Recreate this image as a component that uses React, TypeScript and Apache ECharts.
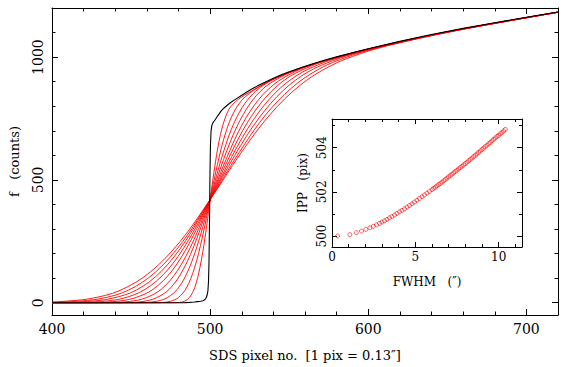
import React, { useEffect, useRef } from "react";
import * as echarts from "echarts";

// ---------- main panel data: f (counts) vs SDS pixel ----------
const blackCurve: number[][] = [
  [400, 0], [480, 0], [484, 0.5], [487, 1.5], [490, 3], [492, 4.5], [494, 6], [495.5, 8],
  [496.5, 12], [497.3, 18], [498, 28], [498.6, 48], [499, 90], [499.3, 170], [499.6, 330],
  [499.9, 520], [500.2, 640], [500.6, 700], [501.1, 722], [501.8, 733], [502.6, 740],
  [503.5, 748], [504.5, 758], [505.7, 769], [507, 781], [509, 794], [511, 805], [513, 815],
  [516, 828], [520, 845], [525, 865], [530, 883], [535, 899], [540, 914], [545, 928],
  [550, 940], [555, 952], [560, 963], [570, 983], [580, 1001], [590, 1018], [600, 1034],
  [620, 1064], [640, 1092], [660, 1117], [680, 1140], [700, 1162], [720, 1184],
];

const red1: number[][] = [
  [400, 0], [475, 0], [480.5, 1], [483.8, 6], [487, 22], [490.3, 62], [493.5, 142],
  [496.8, 266], [500, 420], [503.3, 569], [506.5, 684], [509.8, 757], [513, 798],
  [519.5, 836], [526, 861], [535, 895], [550, 938], [570, 981], [600, 1033], [650, 1103], [720, 1183],
];
const red2: number[][] = [
  [400, 0], [465, 0], [470, 1], [475, 6], [480, 21], [485, 60], [490, 139], [495, 264],
  [500, 420], [505, 574], [510, 696], [515, 776], [520, 824], [525, 853], [530, 875],
  [540, 911], [555, 949], [575, 991], [600, 1033], [650, 1103], [720, 1183],
];
const red3: number[][] = [
  [400, 0], [455, 0], [459.5, 1], [466.3, 6], [473, 21], [479.8, 59], [486.5, 137],
  [493.3, 262], [500, 420], [506.8, 579], [513.5, 707], [520.3, 795], [527, 850],
  [533.8, 886], [540.5, 910], [554, 948], [575, 990], [600, 1033], [650, 1103], [720, 1183],
];
const red4: number[][] = [
  [400, 0], [440, 0], [449, 1], [457.5, 5], [466, 20], [474.5, 57], [483, 135],
  [491.5, 260], [500, 420], [508.5, 583], [517, 718], [525.5, 813], [534, 874],
  [542.5, 911], [551, 938], [568, 977], [600, 1032], [650, 1102], [720, 1183],
];
const red5: number[][] = [
  [400, 0], [430, 0], [438.5, 1], [448.8, 5], [459, 19], [469.3, 56], [479.5, 132],
  [489.8, 257], [500, 420], [510.3, 587], [520.5, 728], [530.8, 828], [541, 892],
  [551.3, 933], [561.5, 962], [582, 1002], [620, 1062], [670, 1127], [720, 1183],
];
const red6: number[][] = [
  [400, 0], [418, 0], [428, 1], [440, 5], [452, 19], [464, 55], [476, 131], [488, 256],
  [500, 420], [512, 592], [524, 738], [536, 842], [548, 911], [560, 953], [572, 983],
  [596, 1026], [620, 1062], [660, 1115], [720, 1183],
];
const red7: number[][] = [
  [400, 0], [408, 0], [417.5, 1], [431.3, 5], [445, 18], [458.8, 54], [472.5, 129],
  [486.3, 254], [500, 420], [513.8, 596], [527.5, 746], [541.3, 855], [555, 926],
  [568.8, 970], [582.5, 1000], [610, 1047], [640, 1090], [680, 1138], [720, 1183],
];
const red8: number[][] = [
  [400, 0.5], [407, 1], [422.5, 5], [438, 18], [453.5, 52], [469, 127], [484.5, 252],
  [500, 420], [515.5, 599], [531, 753], [546.5, 866], [562, 940], [577.5, 985],
  [593, 1018], [624, 1066], [660, 1115], [700, 1160], [720, 1183],
];
const red9: number[][] = [
  [400, 1.4], [413.8, 5], [431, 17], [448.3, 51], [465.5, 125], [482.8, 250], [500, 420],
  [517.3, 601], [534.5, 760], [551.8, 876], [569, 952], [586.3, 1000], [603.5, 1034],
  [638, 1086], [680, 1137], [720, 1183],
];
const red10: number[][] = [
  [400, 3.4], [405, 4.5], [424, 16.5], [443, 50], [462, 124], [481, 249], [500, 420],
  [519, 605], [538, 767], [557, 886], [576, 964], [595, 1014], [614, 1049], [652, 1103],
  [690, 1149], [720, 1182],
];
const redCurves = [red1, red2, red3, red4, red5, red6, red7, red8, red9, red10];

const mainXMajor = [400, 500, 600, 700];
const mainXMinor = [420, 440, 460, 480, 520, 540, 560, 580, 620, 640, 660, 680, 700];
const mainYMajor = [0, 500, 1000];
const mainYMinor = [100, 200, 300, 400, 600, 700, 800, 900, 1100];

// ---------- inset data: IPP vs FWHM ----------
const fwhm = [
  0.34, 1.07, 1.46, 1.77, 2.03, 2.27, 2.48, 2.67, 2.85,
  3.0, 3.15, 3.3, 3.45, 3.6, 3.75, 3.9, 4.05, 4.2, 4.35, 4.5, 4.65, 4.8, 4.95, 5.1, 5.25,
  5.4, 5.55, 5.7, 5.85, 6.0,
  6.1, 6.2, 6.3, 6.4, 6.5, 6.6, 6.7, 6.8, 6.9, 7.0, 7.1, 7.2, 7.3, 7.4, 7.5, 7.6, 7.7,
  7.8, 7.9, 8.0, 8.1, 8.2, 8.3, 8.4, 8.5, 8.6, 8.7, 8.8, 8.9, 9.0, 9.1, 9.2, 9.3, 9.4,
  9.5, 9.6, 9.7, 9.8, 9.9, 10.0, 10.1, 10.2, 10.3, 10.4,
];
const ipp = [
  500.0, 500.06, 500.15, 500.22, 500.30, 500.37, 500.44, 500.50, 500.57,
  500.63, 500.69, 500.75, 500.82, 500.88, 500.95, 501.02, 501.09, 501.16, 501.23, 501.31,
  501.38, 501.46, 501.54, 501.62, 501.70, 501.78, 501.86, 501.94, 502.02, 502.10,
  502.16, 502.21, 502.27, 502.33, 502.38, 502.44, 502.50, 502.56, 502.62, 502.68,
  502.74, 502.80, 502.86, 502.92, 502.98, 503.04, 503.10, 503.16, 503.22, 503.28,
  503.34, 503.41, 503.47, 503.53, 503.60, 503.66, 503.72, 503.79, 503.85, 503.92,
  503.98, 504.05, 504.11, 504.18, 504.24, 504.31, 504.38, 504.44, 504.51, 504.56,
  504.63, 504.69, 504.76, 504.83,
];
const insetXMajor = [0, 5, 10];
const insetXMinor = [1, 2, 3, 4, 6, 7, 8, 9, 11];
const insetYMajor = [500, 502, 504];
const insetYMinor = [501, 503, 505];

const FONT = "DejaVu Serif";
const INK = "#000";
const RED = "#ff0000";

function makeAxis(o: any) {
  const {
    grid, min, max, position, ticks, tickLen, line, labels, labelSize, margin, rotate,
    name, nameGap, nameSize,
  } = o;
  return {
    type: "value",
    gridIndex: grid,
    min,
    max,
    position,
    axisLine: { show: !!line, onZero: false, lineStyle: { color: INK, width: 1 } },
    axisTick: {
      show: true,
      inside: true,
      length: tickLen,
      customValues: ticks,
      lineStyle: { color: INK, width: 1 },
    },
    axisLabel: labels
      ? {
          show: true,
          customValues: labels,
          margin,
          rotate: rotate || 0,
          color: INK,
          fontFamily: FONT,
          fontSize: labelSize,
          formatter: (v: number) => String(v),
        }
      : { show: false },
    splitLine: { show: false },
    name: name || "",
    nameLocation: "middle",
    nameGap: nameGap || 0,
    nameTextStyle: { color: INK, fontFamily: FONT, fontSize: nameSize || 13 },
  };
}

export default function App() {
  const ref = useRef<HTMLDivElement>(null);

  useEffect(() => {
    if (!ref.current) return;
    const chart = echarts.init(ref.current, null, { renderer: "svg" });

    const xAxis = [
      makeAxis({ grid: 0, min: 400, max: 720, position: "bottom", ticks: mainXMajor, tickLen: 6, line: true,
        labels: mainXMajor, labelSize: 14, margin: 7,
        name: "SDS pixel no.  [1 pix = 0.13\u2033]", nameGap: 34, nameSize: 13 }),
      makeAxis({ grid: 0, min: 400, max: 720, position: "bottom", ticks: mainXMinor, tickLen: 3.5 }),
      makeAxis({ grid: 0, min: 400, max: 720, position: "top", ticks: mainXMajor, tickLen: 6, line: true }),
      makeAxis({ grid: 0, min: 400, max: 720, position: "top", ticks: mainXMinor, tickLen: 3.5 }),
      makeAxis({ grid: 1, min: 0, max: 11.4, position: "bottom", ticks: insetXMajor, tickLen: 5, line: true,
        labels: insetXMajor, labelSize: 12, margin: 4,
        name: "FWHM   (\u2033)", nameGap: 29, nameSize: 12 }),
      makeAxis({ grid: 1, min: 0, max: 11.4, position: "bottom", ticks: insetXMinor, tickLen: 3 }),
      makeAxis({ grid: 1, min: 0, max: 11.4, position: "top", ticks: insetXMajor, tickLen: 5, line: true }),
      makeAxis({ grid: 1, min: 0, max: 11.4, position: "top", ticks: insetXMinor, tickLen: 3 }),
    ];
    const yAxis = [
      makeAxis({ grid: 0, min: -50, max: 1200, position: "left", ticks: mainYMajor, tickLen: 6, line: true,
        labels: mainYMajor, labelSize: 14, margin: 7, rotate: 90,
        name: "f   (counts)", nameGap: 31, nameSize: 13 }),
      makeAxis({ grid: 0, min: -50, max: 1200, position: "left", ticks: mainYMinor, tickLen: 3.5 }),
      makeAxis({ grid: 0, min: -50, max: 1200, position: "right", ticks: mainYMajor, tickLen: 6, line: true }),
      makeAxis({ grid: 0, min: -50, max: 1200, position: "right", ticks: mainYMinor, tickLen: 3.5 }),
      makeAxis({ grid: 1, min: 499.5, max: 505.3, position: "left", ticks: insetYMajor, tickLen: 5, line: true,
        labels: insetYMajor, labelSize: 12, margin: 4, rotate: 90,
        name: "IPP   (pix)", nameGap: 23, nameSize: 12 }),
      makeAxis({ grid: 1, min: 499.5, max: 505.3, position: "left", ticks: insetYMinor, tickLen: 3 }),
      makeAxis({ grid: 1, min: 499.5, max: 505.3, position: "right", ticks: insetYMajor, tickLen: 5, line: true }),
      makeAxis({ grid: 1, min: 499.5, max: 505.3, position: "right", ticks: insetYMinor, tickLen: 3 }),
    ];

    const series: any[] = redCurves.map((d, i) => ({
      name: "red" + (i + 1),
      type: "line",
      xAxisIndex: 0,
      yAxisIndex: 0,
      data: d,
      symbol: "none",
      showSymbol: false,
      smooth: 0.35,
      lineStyle: { color: RED, width: 0.9 },
      z: 2,
    }));
    series.push({
      name: "black",
      type: "line",
      xAxisIndex: 0,
      yAxisIndex: 0,
      data: blackCurve,
      symbol: "none",
      showSymbol: false,
      smooth: false,
      lineStyle: { color: INK, width: 1.1 },
      z: 3,
    });
    series.push({
      name: "ipp",
      type: "scatter",
      xAxisIndex: 4,
      yAxisIndex: 4,
      data: fwhm.map((f, i) => [f, ipp[i]]),
      symbol: "circle",
      symbolSize: 4,
      itemStyle: { color: "rgba(255,255,255,0)", borderColor: RED, borderWidth: 0.8 },
      z: 4,
    });

    chart.setOption({
      animation: false,
      backgroundColor: "#fff",
      grid: [
        { left: 44, top: 8, width: 514, height: 307, containLabel: false },
        { left: 332, top: 119, width: 190, height: 128, containLabel: false, show: true, backgroundColor: "#fff", borderWidth: 0 },
      ],
      xAxis,
      yAxis,
      series,
    });

    return () => chart.dispose();
  }, []);

  return (
    <div
      ref={ref}
      style={{ position: "fixed", left: 0, top: 0, width: 570, height: 367, background: "#fff" }}
    />
  );
}
